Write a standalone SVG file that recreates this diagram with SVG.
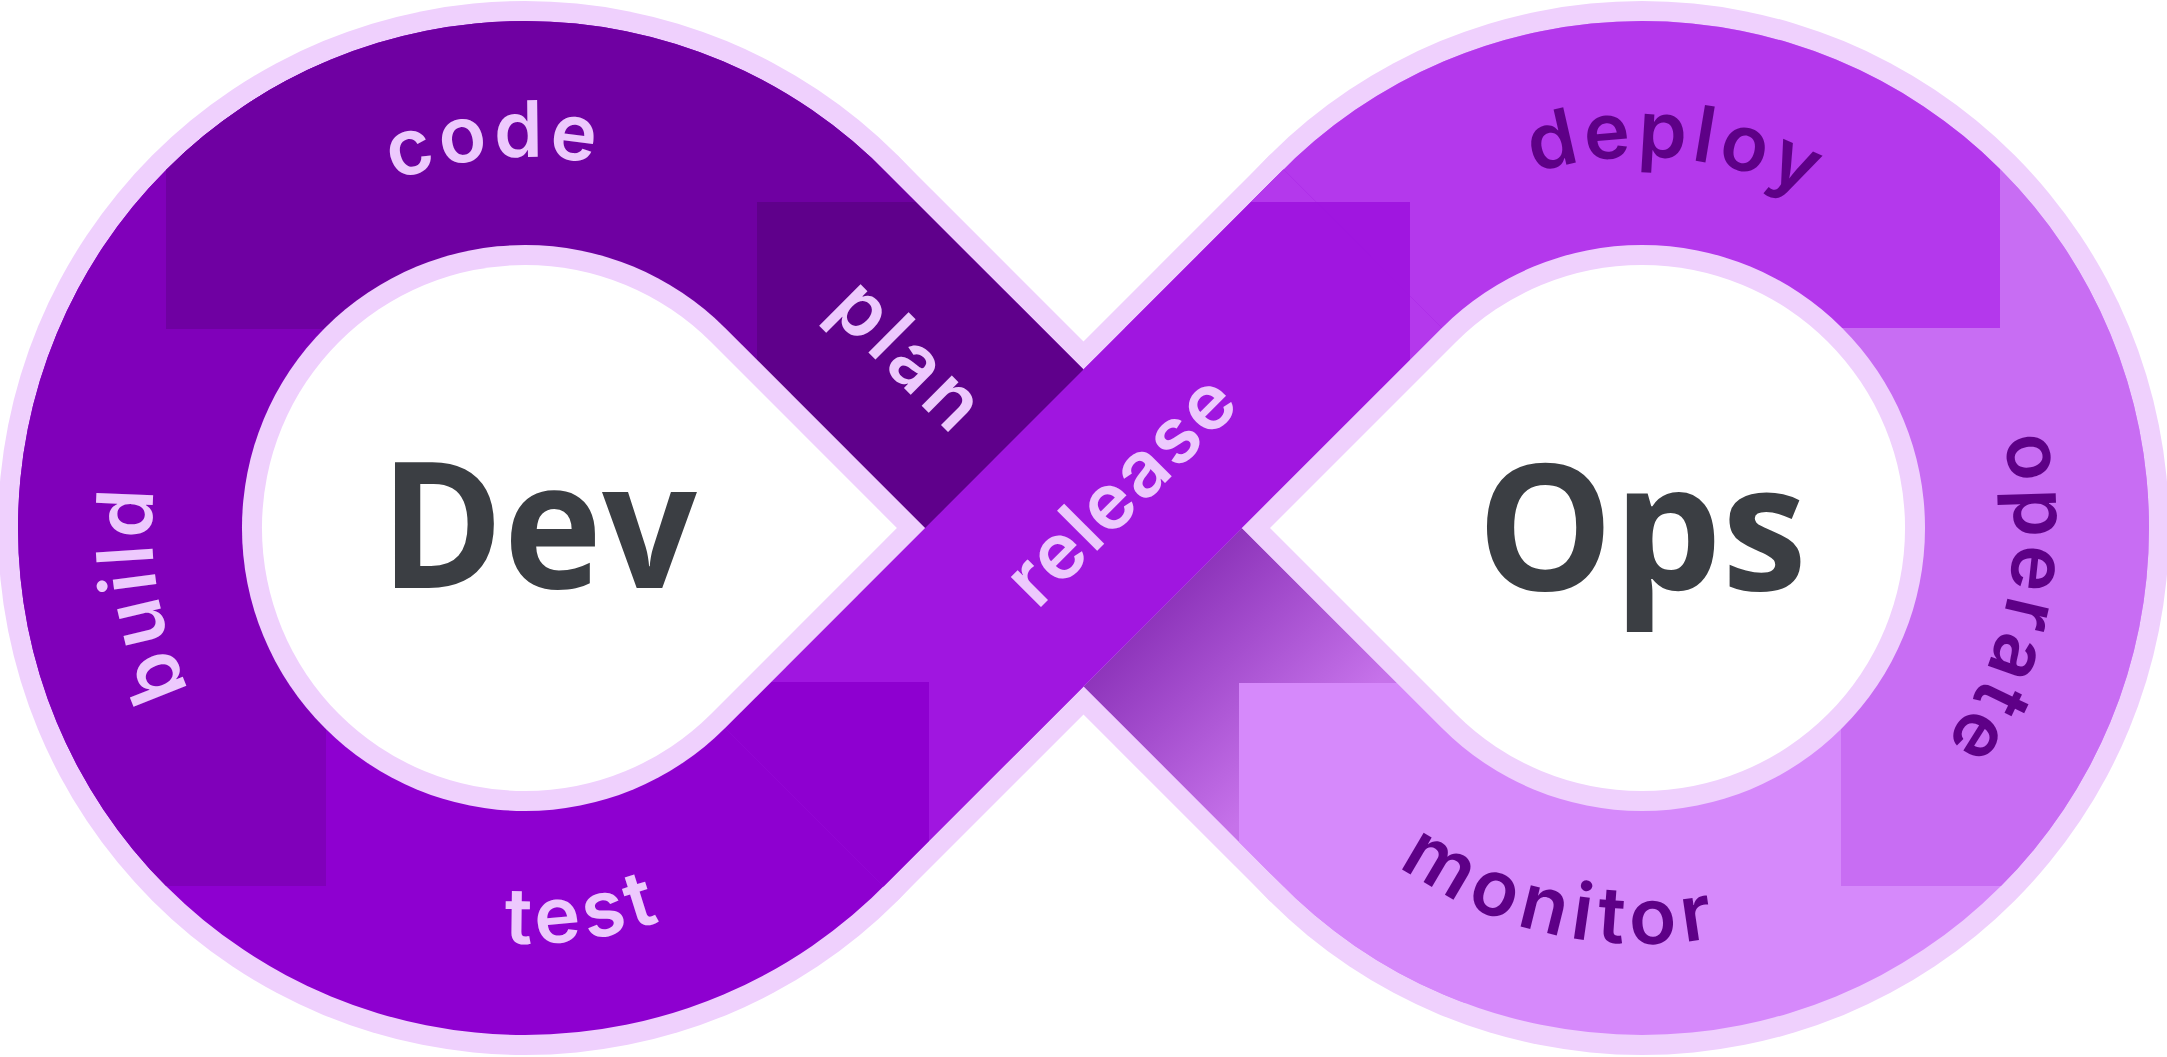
<svg xmlns="http://www.w3.org/2000/svg" width="2167" height="1057" viewBox="0 0 2167 1057">
<defs>
<style>
.lilac{fill:#EFD0FD}
.white{fill:#FFFFFF}
.lbl{font-family:Inter,"Open Sans","Liberation Sans",sans-serif;font-size:78px;font-weight:600;letter-spacing:5px}
.light{fill:#EDC9FD}
.dark{fill:#5E0087}
.big{font-family:"Open Sans","Liberation Sans",sans-serif;font-weight:700;font-size:176px;fill:#3B3E43}
</style>
<clipPath id="purple">
<circle cx="525" cy="528" r="507"/>
<circle cx="1642" cy="528" r="507"/>
<polygon points="883.4,169.5 1442,728.1 1283.6,886.5 725,327.9"/>
<polygon points="725,728.1 1283.6,169.5 1442,327.9 883.4,886.5"/>
</clipPath>
<clipPath id="band2clip">
<polygon points="725,728.1 1283.6,169.5 1442,327.9 883.4,886.5"/>
</clipPath>
<linearGradient id="shadow" gradientUnits="userSpaceOnUse" x1="1180" y1="590" x2="1325" y2="735">
<stop offset="0" stop-color="#8E35BB"/>
<stop offset="1" stop-color="#C672EA"/>
</linearGradient>
<path id="p-code" d="M189.9,368.9 A371,371 0 0 1 830.4,317.3"/>
<path id="p-build" d="M395,877.6 A373,373 0 0 1 287.3,240.6"/>
<path id="p-test" d="M199,786.4 A416,416 0 0 0 911.8,681.1"/>
<path id="p-deploy" d="M1338.5,314.7 A371,371 0 0 1 1978.5,371.8"/>
<path id="p-operate" d="M1886.1,247.3 A372,372 0 0 1 1763.1,879.7"/>
<path id="p-monitor" d="M1245.5,653.8 A416,416 0 0 0 1949.2,808.5"/>
</defs>

<g id="outline" class="lilac">
<circle cx="525" cy="528" r="527"/>
<circle cx="1642" cy="528" r="527"/>
<polygon points="897.5,155.4 1456.1,714 1269.5,900.6 710.9,342"/>
<polygon points="710.9,714 1269.5,155.4 1456.1,342 897.5,900.6"/>
</g>

<g id="loop-colors" clip-path="url(#purple)">
<rect id="seg-test" x="0" y="0" width="1084" height="1057" fill="#8E00D0"/>
<rect id="seg-build" x="0" y="0" width="326" height="886" fill="#8000BA"/>
<path id="seg-code" d="M166,0 H1084 V202 H757 V420 H326 V329 H166 Z" fill="#6F00A2"/>
<rect id="seg-plan" x="757" y="202" width="327" height="326" fill="#5F008B"/>
<rect id="seg-monitor" x="1083" y="0" width="1084" height="1057" fill="#D689FB"/>
<rect id="seg-deploy" x="1083" y="0" width="917" height="328" fill="#B438EC"/>
<rect id="seg-release-end" x="1083" y="202" width="327" height="326" fill="#A016E0"/>
<path id="seg-operate" d="M2000,0 H2167 V886 H1841 V328 H2000 Z" fill="#C86DF3"/>
<polygon id="seg-shadow" points="1241.9,528 1442,728.1 1283.6,886.5 1083.5,686.4" fill="url(#shadow)"/>
<rect id="seg-monitor-front" x="1239" y="683" width="320" height="320" fill="#D689FB"/>
</g>

<g id="release-band" clip-path="url(#band2clip)">
<rect x="600" y="100" width="900" height="850" fill="#A016E0"/>
<rect x="600" y="682" width="329" height="300" fill="#8E00D0"/>
<rect x="1000" y="100" width="500" height="102" fill="#B438EC"/>
<rect x="1410" y="100" width="100" height="850" fill="#B438EC"/>
</g>

<g id="dev-hole">
<path class="lilac" d="M725.1,327.9 L925.1,528 L725.1,728.1 A283,283 0 1 1 725.1,327.9 Z"/>
<path class="white" d="M711,342 L896.9,528 L711,714 A263,263 0 1 1 711,342 Z"/>
<text class="big" x="380" y="588" textLength="317" lengthAdjust="spacingAndGlyphs">Dev</text>
</g>

<g id="ops-hole">
<path class="lilac" d="M1441.9,327.9 L1241.8,528 L1441.9,728.1 A283,283 0 1 0 1441.9,327.9 Z"/>
<path class="white" d="M1456,342 L1270,528 L1456,714 A263,263 0 1 0 1456,342 Z"/>
<text class="big" x="1477" y="590" textLength="330" lengthAdjust="spacingAndGlyphs">Ops</text>
</g>

<g id="labels">
<g id="label-code"><text class="lbl light"><textPath href="#p-code" startOffset="50%" text-anchor="middle">code</textPath></text></g>
<g id="label-build"><text class="lbl light"><textPath href="#p-build" startOffset="50%" text-anchor="middle">build</textPath></text></g>
<g id="label-test"><text class="lbl light"><textPath href="#p-test" startOffset="50%" text-anchor="middle">test</textPath></text></g>
<g id="label-plan"><text class="lbl light" transform="translate(891,375) rotate(45)" text-anchor="middle">plan</text></g>
<g id="label-release"><text class="lbl light" transform="translate(1140,508) rotate(-45)" text-anchor="middle" style="letter-spacing:2px">release</text></g>
<g id="label-deploy"><text class="lbl dark"><textPath href="#p-deploy" startOffset="50%" text-anchor="middle">deploy</textPath></text></g>
<g id="label-operate"><text class="lbl dark"><textPath href="#p-operate" startOffset="50%" text-anchor="middle">operate</textPath></text></g>
<g id="label-monitor"><text class="lbl dark" style="letter-spacing:7px"><textPath href="#p-monitor" startOffset="50%" text-anchor="middle">monitor</textPath></text></g>
</g>
</svg>
